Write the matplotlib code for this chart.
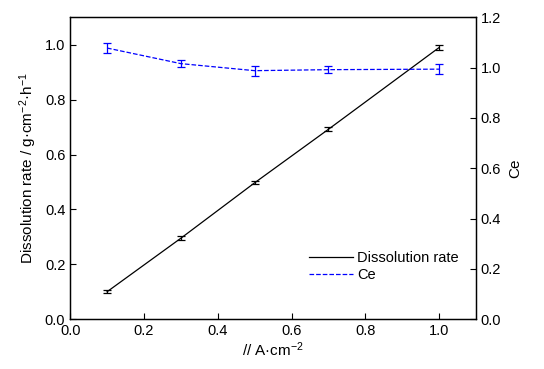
import matplotlib
matplotlib.use('Agg')
import matplotlib.pyplot as plt
from matplotlib.lines import Line2D

plt.rcParams['font.family'] = ['Liberation Sans', 'DejaVu Sans']
plt.rcParams['font.size'] = 10.5
plt.rcParams['mathtext.default'] = 'regular'

# current density (A/cm2)
current = [0.1, 0.3, 0.5, 0.7, 1.0]
# dissolution rate (g/cm2/h) and its error
rate = [0.100, 0.295, 0.497, 0.692, 0.990]
rate_err = [0.006, 0.008, 0.006, 0.007, 0.010]
# current efficiency Ce and its error
ce = [1.078, 1.016, 0.988, 0.992, 0.994]
ce_err = [0.019, 0.013, 0.020, 0.013, 0.020]

fig, ax = plt.subplots(figsize=(5.44, 3.69), dpi=100)
fig.subplots_adjust(left=0.129, right=0.875, top=0.953, bottom=0.135)

ax.errorbar(current, rate, yerr=rate_err, color='black', lw=0.9,
            capsize=3, elinewidth=0.9, capthick=0.9)
ax.set_xlim(0, 1.1)
ax.set_ylim(0, 1.1)
ax.set_xticks([0.0, 0.2, 0.4, 0.6, 0.8, 1.0])
ax.set_yticks([0.0, 0.2, 0.4, 0.6, 0.8, 1.0])
ax.set_xlabel('// A·cm$^{-2}$', labelpad=2, fontsize=11)
ax.set_ylabel('Dissolution rate / g·cm$^{-2}$·h$^{-1}$', labelpad=4, fontsize=11)
ax.tick_params(direction='in', length=4, width=0.8, labelsize=10.5)

ax2 = ax.twinx()
ax2.errorbar(current, ce, yerr=ce_err, color='blue', ls='--', lw=0.9,
             capsize=3, elinewidth=0.9, capthick=0.9)
ax2.set_ylim(0, 1.2)
ax2.set_yticks([0.0, 0.2, 0.4, 0.6, 0.8, 1.0, 1.2])
ax2.set_ylabel('Ce', labelpad=5, fontsize=11)
ax2.tick_params(direction='in', length=4, width=0.8, labelsize=10.5)

for a in (ax, ax2):
    for s in a.spines.values():
        s.set_linewidth(0.9)

handles = [Line2D([], [], color='black', lw=0.9),
           Line2D([], [], color='blue', ls='--', lw=0.9)]
ax.legend(handles, ['Dissolution rate', 'Ce'], loc='lower right',
          bbox_to_anchor=(0.99, 0.08), frameon=False, handlelength=3,
          handletextpad=0.3, labelspacing=0.2, fontsize=10.5)

fig.savefig('out.png', dpi=100)
